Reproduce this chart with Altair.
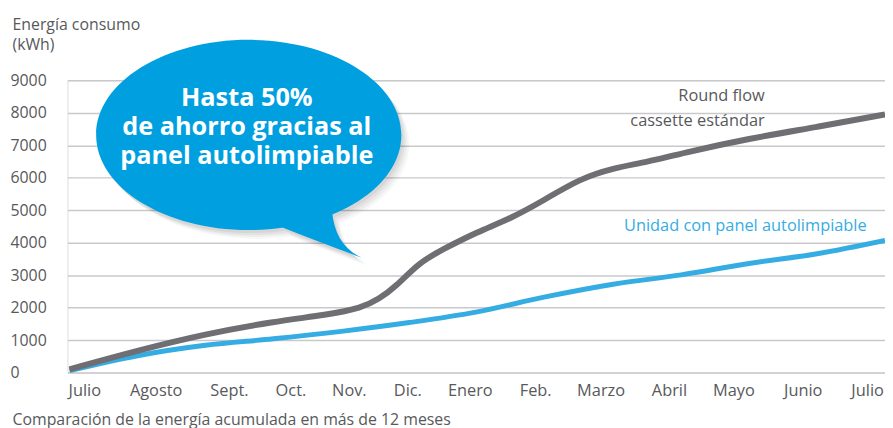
import json
import altair as alt
import pandas as pd

# ---------------- data ----------------
months = ["Julio", "Agosto", "Sept.", "Oct.", "Nov.", "Dic.", "Enero",
          "Feb.", "Marzo", "Abril", "Mayo", "Junio", "Julio"]
# where each month label sits along the time axis
month_label_at = [0.218, 1.268, 2.347, 3.251, 4.111, 4.971, 5.890,
                  6.852, 7.815, 8.821, 9.769, 10.790, 11.737]

gray_t = [0, 1, 2, 3, 3.8, 4.3, 4.55, 4.8, 5.15, 5.5, 6, 6.5, 7, 7.5, 8, 8.5,
          9, 10, 11, 12]
gray_v = [100, 680, 1190, 1570, 1780, 1990, 2260, 2640, 3400, 3800, 4330, 4750,
          5330, 5960, 6300, 6480, 6750, 7210, 7560, 7950]

blue_t = [0, 1, 2, 3, 4, 5, 6, 7, 8, 9, 10, 11, 12]
blue_v = [60, 520, 840, 1040, 1270, 1540, 1870, 2330, 2720, 3010, 3360, 3660, 4070]

y_ticks = [0, 1000, 2000, 3000, 4000, 5000, 6000, 7000, 8000, 9000]

y_title = ["Energía consumo", "(kWh)"]
x_title = "Comparación de la energía acumulada en más de 12 meses"
bubble_text = ["Hasta 50%", "de ahorro gracias al", "panel autolimpiable"]
gray_label = ["Round flow", "cassette estándar"]
blue_label = "Unidad con panel autolimpiable"

# ---------------- styles ----------------
FONT = "Open Sans"
GRAY = "#6f6f73"
BLUE = "#35ade3"
BUBBLE = "#009fe0"
TXT = "#58595b"

df_months = pd.DataFrame({"t": month_label_at, "name": months})
df_gray = pd.DataFrame({"t": gray_t, "v": gray_v})
df_blue = pd.DataFrame({"t": blue_t, "v": blue_v})
one = pd.DataFrame({"a": [0]})

xscale = alt.Scale(domain=[-0.03, 12], nice=False, zero=False)
yscale = alt.Scale(domain=[0, 9000], nice=False)

label_expr = (json.dumps(months) + "[indexof(" + json.dumps(month_label_at)
              + ", datum.value)]")

x_axis = alt.Axis(values=month_label_at, labelExpr=label_expr, labelAngle=0,
                  ticks=False, tickSize=0, domain=False, grid=False,
                  labelOverlap=False, labelPadding=10, labelFontSize=16.5,
                  labelFont=FONT, labelColor=TXT, labelAlign="center",
                  title=x_title, titleFont=FONT,
                  titleFontSize=16, titleFontWeight="normal",
                  titleColor=TXT, titleAnchor="start", titleAlign="left",
                  titleX=-56, titleY=52, titleBaseline="alphabetic")

y_axis = alt.Axis(values=y_ticks, format="d", grid=True, gridColor="#c9c9cb",
                  gridWidth=1.5, labelOverlap=False,
                  domain=False, ticks=False, tickSize=0, labelAlign="left",
                  labelPadding=58, labelFontSize=16, labelFont=FONT,
                  labelColor=TXT, labelBaseline="middle",
                  title=y_title, titleAngle=0, titleAlign="left",
                  titleBaseline="top", titleX=-56, titleY=-64,
                  titleFont=FONT, titleFontSize=16, titleFontWeight="normal",
                  titleColor=TXT, titleLineHeight=20)


def X(field=None, datum=None):
    if datum is not None:
        return alt.X(datum=datum, scale=xscale, axis=x_axis)
    return alt.X(field, type="quantitative", scale=xscale, axis=x_axis)


def Y(field=None, datum=None):
    if datum is not None:
        return alt.Y(datum=datum, scale=yscale, axis=y_axis)
    return alt.Y(field, type="quantitative", scale=yscale, axis=y_axis)


month_layer = alt.Chart(df_months).mark_point(opacity=0).encode(
    x=X("t"), y=alt.value(0))

blue_line = alt.Chart(df_blue).mark_line(color=BLUE, strokeWidth=5,
                                         interpolate="monotone").encode(
    x=X("t"), y=Y("v"))
gray_line = alt.Chart(df_gray).mark_line(color=GRAY, strokeWidth=6,
                                         interpolate="basis").encode(
    x=X("t"), y=Y("v"))

# speech bubble (ellipse + tail), unit path
bubble_path = ("M 1 0 C 1 0.344 0.552 0.623 0 0.623 "
               "C -0.552 0.623 -1 0.344 -1 0 "
               "C -1 -0.344 -0.552 -0.623 0 -0.623 "
               "C 0.552 -0.623 1 -0.344 1 0 Z "
               "M 0.545 0.494 C 0.558 0.649 0.622 0.752 0.742 0.805 "
               "Q 0.455 0.701 0.130 0.571 Z")
BX, BY = 2.638, 7317
SIZE = 308 ** 2


def bubble_layer(color, opacity, dx, dy):
    return alt.Chart(one).mark_point(shape=bubble_path, size=SIZE, filled=True,
                                     color=color, opacity=opacity, strokeWidth=0,
                                     xOffset=dx, yOffset=dy).encode(
        x=X(datum=BX), y=Y(datum=BY))


shadows = [bubble_layer("#000000", 0.05, 2, 3),
           bubble_layer("#000000", 0.045, 4, 5),
           bubble_layer("#000000", 0.04, 6, 7),
           bubble_layer("#000000", 0.03, 8, 9)]
bubble = bubble_layer(BUBBLE, 1, 0, 0)

bubble_txt = alt.Chart(one).mark_text(text=bubble_text, font=FONT, fontSize=25.5,
                                      fontWeight="bold", color="white",
                                      align="center", baseline="middle",
                                      lineHeight=29).encode(
    x=X(datum=2.609), y=Y(datum=8450))

gray_txt = alt.Chart(one).mark_text(text=gray_label, font=FONT, fontSize=16.5,
                                    color=TXT, align="right", baseline="middle",
                                    lineHeight=25).encode(
    x=X(datum=10.23), y=Y(datum=8511))

blue_txt = alt.Chart(one).mark_text(text=blue_label, font=FONT, fontSize=16.5,
                                    color=BLUE, align="right",
                                    baseline="middle").encode(
    x=X(datum=11.73), y=Y(datum=4515))

chart = alt.layer(month_layer, blue_line, gray_line, *shadows, bubble,
                  bubble_txt, gray_txt, blue_txt).properties(
    width=825, height=295,
    padding={"left": 60, "top": 71, "right": 0, "bottom": 56},
    autosize=alt.AutoSizeParams(type="none"),
).configure_view(stroke=None).configure(background="white")

chart.save("out.html", embed_options={"renderer": "svg", "actions": False})
